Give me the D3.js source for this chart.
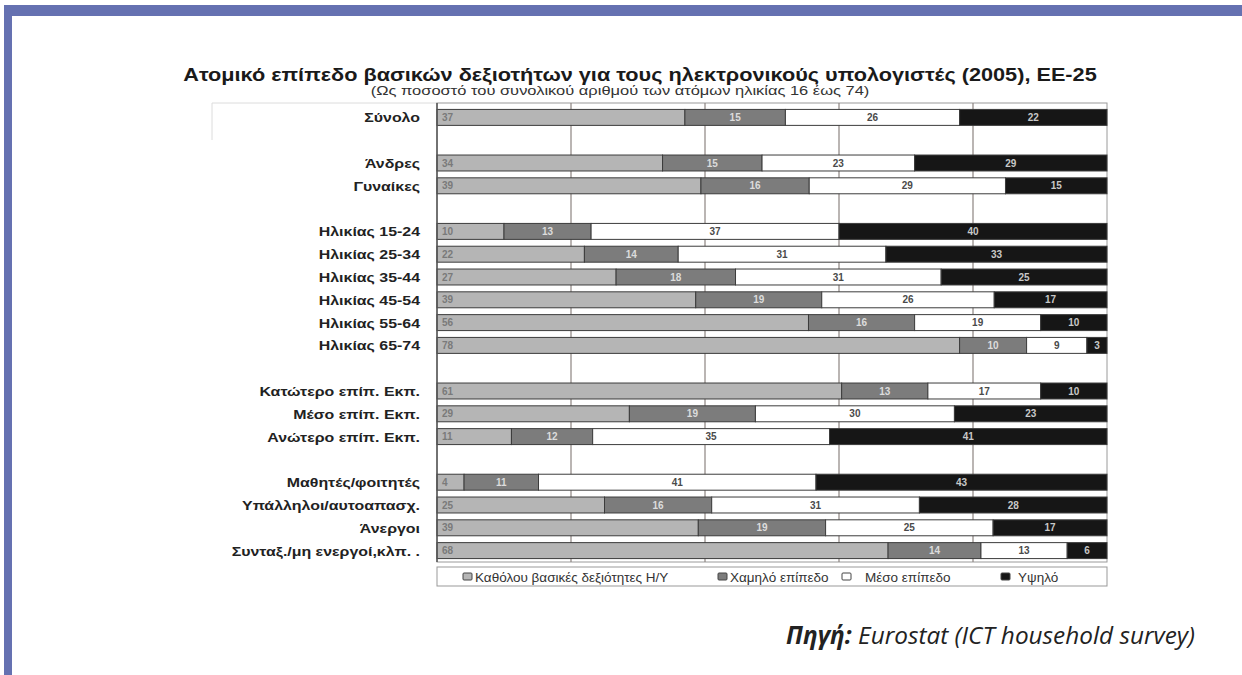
<!DOCTYPE html>
<html><head><meta charset="utf-8">
<script src="https://cdn.jsdelivr.net/npm/d3@7"></script>
<style>
body{margin:0;background:#fff;}
svg{display:block;}
</style></head>
<body>
<svg id="chart" width="1242" height="675"></svg>
<script>
// ---- data ----
const categories = ["Σύνολο","",
  "Άνδρες","Γυναίκες","",
  "Ηλικίας 15-24","Ηλικίας 25-34","Ηλικίας 35-44","Ηλικίας 45-54","Ηλικίας 55-64","Ηλικίας 65-74","",
  "Κατώτερο επίπ. Εκπ.","Μέσο επίπ. Εκπ.","Ανώτερο επίπ. Εκπ.","",
  "Μαθητές/φοιτητές","Υπάλληλοι/αυτοαπασχ.","Άνεργοι","Συνταξ./μη ενεργοί,κλπ. ."];
const noSkills = [37,null,34,39,null,10,22,27,39,56,78,null,61,29,11,null,4,25,39,68];
const lowLevel = [15,null,15,16,null,13,14,18,19,16,10,null,13,19,12,null,11,16,19,14];
const midLevel = [26,null,23,29,null,37,31,31,26,19,9,null,17,30,35,null,41,31,25,13];
const highLevel = [22,null,29,15,null,40,33,25,17,10,3,null,10,23,41,null,43,28,17,6];
const seriesNames = ["Καθόλου βασικές δεξιότητες Η/Υ","Χαμηλό επίπεδο","Μέσο επίπεδο","Υψηλό"];
const xTicks = [0,20,40,60,80,100];
const title = "Ατομικό επίπεδο βασικών δεξιοτήτων για τους ηλεκτρονικούς υπολογιστές (2005), ΕΕ-25";
const subtitle = "(Ως ποσοστό του συνολικού αριθμού των ατόμων ηλικίας 16 έως 74)";

// ---- drawing ----
const svg = d3.select("#chart");
const fills = ["#b5b5b5","#7c7c7c","#ffffff","#161616"];
const labelColors = ["#7a7a7a","#dcdcdc","#4a4a4a","#c8c8c8"];
const FONT = "Liberation Sans, Arial, sans-serif";

function fitText(sel, cx, width){
  const len = sel.node().getComputedTextLength();
  const k = width/len;
  const yy = sel.attr("y");
  sel.attr("text-anchor","middle").attr("x",0).attr("y",0)
     .attr("transform",`translate(${cx},${yy}) scale(${k},1)`);
}

// blue frame
svg.append("rect").attr("x",4).attr("y",5).attr("width",1238).attr("height",11).attr("fill","#6571b1");
svg.append("rect").attr("x",4).attr("y",5).attr("width",8).attr("height",670).attr("fill","#6571b1");

const keys = categories.map((c,i)=> c === "" ? "gap"+i : c);
const x = d3.scaleLinear().domain([0,100]).range([437,1107]);
const y = d3.scaleBand().domain(keys).range([106,562]).paddingInner(0.3).paddingOuter(0.15);
const plotTop = 103, plotBottom = 562;

const rows = categories.map((c,i)=>({key:keys[i], label:c, vals:[noSkills[i],lowLevel[i],midLevel[i],highLevel[i]]}))
  .filter(r=>r.vals[0]!==null);

// faint label-column top rule
svg.append("path").attr("d",`M${x(0)},${plotTop}H212V140`)
  .attr("fill","none").attr("stroke","#dcdcdc").attr("stroke-width",1);

// plot frame
svg.append("rect").attr("x",x(0)).attr("y",plotTop).attr("width",x(100)-x(0)).attr("height",plotBottom-plotTop)
  .attr("fill","#fff").attr("stroke","#9a9a9a").attr("stroke-width",1);

// gridlines
svg.append("g").selectAll("line").data(xTicks.slice(1,-1)).join("line")
  .attr("x1",d=>x(d)).attr("x2",d=>x(d)).attr("y1",plotTop).attr("y2",plotBottom)
  .attr("stroke","#8c8480").attr("stroke-width",1.2);

// bars
const segs = [];
rows.forEach(r=>{
  const sum = d3.sum(r.vals);
  let acc = 0;
  r.vals.forEach((v,j)=>{
    const p0 = acc/sum*100, p1 = (acc+v)/sum*100;
    segs.push({key:r.key, j, v, p0, p1});
    acc += v;
  });
});
svg.append("g").selectAll("rect").data(segs).join("rect")
  .attr("x",d=>x(d.p0)).attr("y",d=>y(d.key))
  .attr("width",d=>x(d.p1)-x(d.p0)).attr("height",y.bandwidth())
  .attr("fill",d=>fills[d.j]).attr("stroke","#3c3c3c").attr("stroke-width",1);

svg.append("g").selectAll("text").data(segs).join("text")
  .attr("x",d=> d.j===0 ? x(d.p0)+5 : (x(d.p0)+x(d.p1))/2)
  .attr("y",d=>y(d.key)+y.bandwidth()/2+3.5)
  .attr("text-anchor",d=>d.j===0?"start":"middle")
  .attr("font-family",FONT).attr("font-size",10).attr("font-weight","bold")
  .attr("fill",d=>labelColors[d.j]).text(d=>d.v);

// left edge line
svg.append("line").attr("x1",x(0)).attr("x2",x(0)).attr("y1",plotTop).attr("y2",plotBottom).attr("stroke","#555").attr("stroke-width",1.5);

// category labels
svg.append("g").selectAll("text").data(rows).join("text")
  .attr("transform",d=>`translate(420,${y(d.key)+y.bandwidth()/2+5}) scale(1.18,1)`)
  .attr("text-anchor","end")
  .attr("font-family",FONT).attr("font-size",13.5).attr("font-weight","bold")
  .attr("fill","#222").text(d=>d.label);

// title
const t1 = svg.append("text").attr("y",81)
  .attr("font-family",FONT).attr("font-size",18).attr("font-weight","bold")
  .attr("fill","#1a1a1a").text(title);
fitText(t1, 640, 914);
const t2 = svg.append("text").attr("y",95)
  .attr("font-family",FONT).attr("font-size",13)
  .attr("fill","#333").text(subtitle);
fitText(t2, 620, 499);

// legend
svg.append("rect").attr("x",x(0)).attr("y",567).attr("width",x(100)-x(0)).attr("height",19)
  .attr("fill","#fff").attr("stroke","#999");
const legX = [463, 718, 842, 1001];
const lg = svg.append("g").selectAll("g").data(seriesNames).join("g")
  .attr("transform",(d,i)=>`translate(${legX[i]},577)`);
lg.append("rect").attr("x",0).attr("y",-4).attr("width",9).attr("height",7)
  .attr("fill",(d,i)=>fills[i]).attr("stroke","#444").attr("rx",1);
lg.append("text").attr("x",(d,i)=> i===2 ? 23 : (i===3 ? 17 : 12)).attr("y",5)
  .attr("font-family",FONT).attr("font-size",13.5)
  .attr("fill","#333").text(d=>d);

// source
const src = svg.append("text").attr("y",644)
  .attr("font-family","Open Sans, sans-serif").attr("font-size",21).attr("font-style","italic").attr("fill","#222");
src.append("tspan").attr("font-weight","bold").text("Πηγή:");
src.append("tspan").text(" Eurostat (ICT household survey)");
{
  const len = src.node().getComputedTextLength();
  src.attr("font-size", 21*409/len).attr("x",1195).attr("text-anchor","end");
}
</script>
</body></html>
